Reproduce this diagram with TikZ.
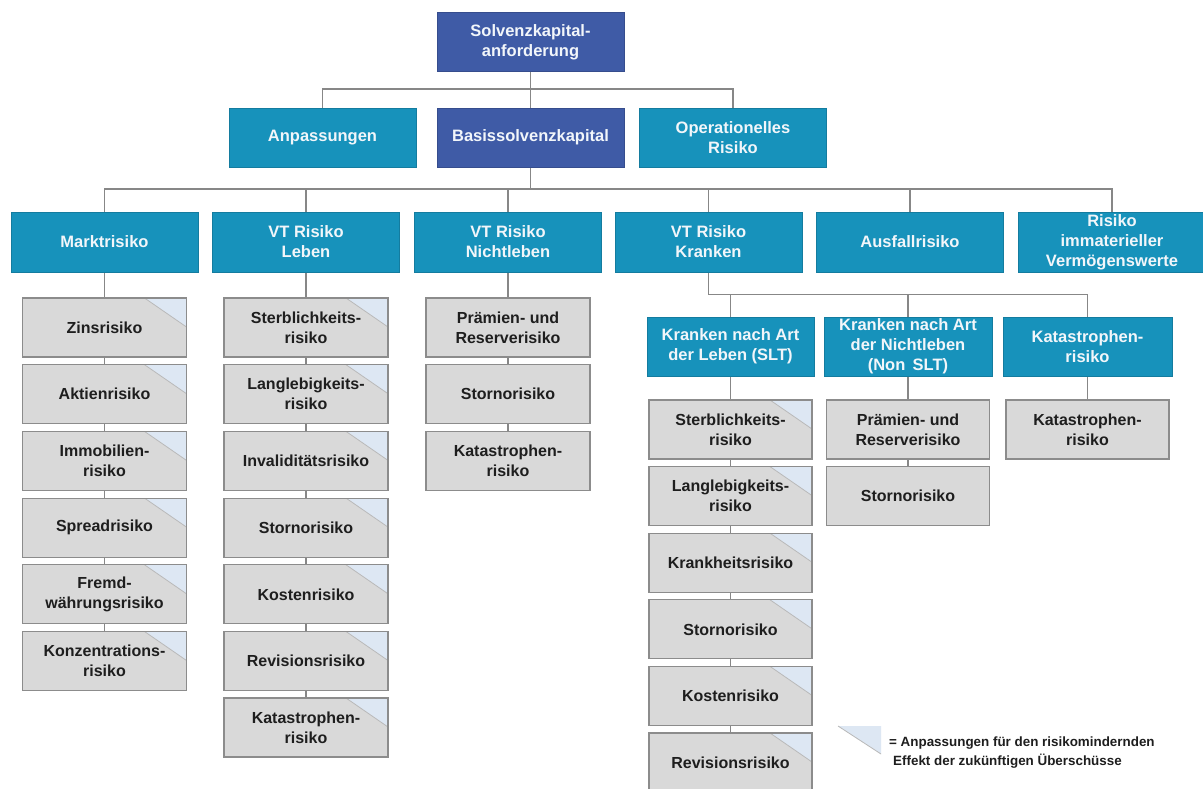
\documentclass[tikz,border=0pt]{standalone}
\usepackage{fontspec}
\setmainfont{Liberation Sans}
\usetikzlibrary{calc,backgrounds}
\definecolor{darkblue}{RGB}{63,91,166}
\definecolor{tealblue}{RGB}{23,146,187}
\definecolor{boxgray}{RGB}{217,217,217}
\definecolor{bordergray}{RGB}{140,140,140}
\definecolor{trifill}{RGB}{221,231,243}
\definecolor{linegray}{RGB}{135,135,135}
\definecolor{txtdark}{RGB}{30,30,30}
\definecolor{txtlight}{RGB}{242,246,250}
\begin{document}
\begin{tikzpicture}[x=1pt,y=-1pt,
  base/.style={rectangle, inner sep=0pt, align=center, font=\fontsize{16.5}{20}\selectfont\bfseries},
  bluebox/.style={base, fill=darkblue, draw=darkblue!85!black, line width=0.6pt, text=txtlight, minimum width=187pt, minimum height=59pt},
  tealbox/.style={base, fill=tealblue, draw=tealblue!85!black, line width=0.6pt, text=txtlight, minimum width=187pt, minimum height=60pt},
  subhead/.style={tealbox, minimum width=167pt, minimum height=59pt},
  graybox/.style={base, fill=boxgray, draw=bordergray, line width=1.2pt, text=txtdark, minimum width=164pt, minimum height=59pt, font=\fontsize{16}{20}\selectfont\bfseries},
  cornerbox/.style={graybox, path picture={
      \fill[trifill] ([xshift=-42pt]path picture bounding box.north east) -- (path picture bounding box.north east) -- ([yshift=-29pt]path picture bounding box.north east) -- cycle;
      \draw[gray!55, line width=0.8pt] ([xshift=-42pt]path picture bounding box.north east) -- ([yshift=-29pt]path picture bounding box.north east);}},
  conn/.style={draw=linegray, line width=1.3pt},
  legendtext/.style={anchor=west, inner sep=0pt, text=txtdark, font=\fontsize{13.4}{16}\selectfont\bfseries}
]
\useasboundingbox (0,0) rectangle (1203,789);

% top levels
\node[bluebox] (solvenz) at (530.5,42) {Solvenzkapital-\\anforderung};
\node[tealbox, minimum height=59pt] (anp) at (322.5,137.5) {Anpassungen};
\node[bluebox] (basis) at (530.5,137.5) {Basissolvenzkapital};
\node[tealbox, minimum height=59pt] (oper) at (733,137.5) {Operationelles\\Risiko};

% row 3
\node[tealbox] (markt) at (104.5,242) {Marktrisiko};
\node[tealbox] (leben) at (306,242) {VT Risiko\\Leben};
\node[tealbox] (nicht) at (508,242) {VT Risiko\\Nichtleben};
\node[tealbox] (kranken) at (708.5,242) {VT Risiko\\Kranken};
\node[tealbox] (ausfall) at (910,242) {Ausfallrisiko};
\node[tealbox] (immat) at (1112,242) {Risiko\\immaterieller\\Verm\"ogenswerte};

% Marktrisiko column
\node[cornerbox] (m1) at (104.5,327.5) {Zinsrisiko};
\node[cornerbox] (m2) at (104.5,394.2) {Aktienrisiko};
\node[cornerbox] (m3) at (104.5,460.9) {Immobilien-\\risiko};
\node[cornerbox] (m4) at (104.5,527.6) {Spreadrisiko};
\node[cornerbox] (m5) at (104.5,594.3) {Fremd-\\w\"ahrungsrisiko};
\node[cornerbox] (m6) at (104.5,661) {Konzentrations-\\risiko};

% Leben column
\node[cornerbox] (l1) at (306,327.5) {Sterblichkeits-\\risiko};
\node[cornerbox] (l2) at (306,394.2) {Langlebigkeits-\\risiko};
\node[cornerbox] (l3) at (306,460.9) {Invalidit\"atsrisiko};
\node[cornerbox] (l4) at (306,527.6) {Stornorisiko};
\node[cornerbox] (l5) at (306,594.3) {Kostenrisiko};
\node[cornerbox] (l6) at (306,661) {Revisionsrisiko};
\node[cornerbox] (l7) at (306,727.5) {Katastrophen-\\risiko};

% Nichtleben column
\node[graybox] (n1) at (508,327.5) {Pr\"amien- und\\Reserverisiko};
\node[graybox] (n2) at (508,394.2) {Stornorisiko};
\node[graybox] (n3) at (508,460.9) {Katastrophen-\\risiko};

% Kranken sub heads
\node[subhead] (slt) at (730.5,346.5) {Kranken nach Art\\der Leben (SLT)};
\node[subhead, minimum width=168pt] (nonslt) at (908,346.5) {Kranken nach Art\\der Nichtleben\\(Non\,\ SLT)};
\node[subhead, minimum width=169pt] (katg) at (1087.5,346.5) {Katastrophen-\\risiko};

% SLT column
\node[cornerbox, minimum width=163pt] (s1) at (730.5,429.5) {Sterblichkeits-\\risiko};
\node[cornerbox, minimum width=163pt] (s2) at (730.5,496.1) {Langlebigkeits-\\risiko};
\node[cornerbox, minimum width=163pt] (s3) at (730.5,562.7) {Krankheitsrisiko};
\node[cornerbox, minimum width=163pt] (s4) at (730.5,629.3) {Stornorisiko};
\node[cornerbox, minimum width=163pt] (s5) at (730.5,695.9) {Kostenrisiko};
\node[cornerbox, minimum width=163pt] (s6) at (730.5,762.5) {Revisionsrisiko};

% Non SLT column
\node[graybox, minimum width=163pt] (ns1) at (908,429.5) {Pr\"amien- und\\Reserverisiko};
\node[graybox, minimum width=163pt] (ns2) at (908,496.1) {Stornorisiko};

% Katastrophen column
\node[graybox, minimum width=163pt] (k1) at (1087.5,429.5) {Katastrophen-\\risiko};

% connectors
\begin{scope}[on background layer]
\fill[white] (0,0) rectangle (1203,789);
\coordinate (bus1) at (530.5,89);
\coordinate (bus2) at (530.5,189);
\coordinate (bus3) at (908,294.5);
\draw[conn] (solvenz.south) -- (basis.north);
\draw[conn] (anp.north) |- (bus1) -| (oper.north);
\draw[conn] (basis.south) -- (basis.south |- bus2);
\draw[conn] (markt.north) |- (bus2) -| (immat.north);
\foreach \n in {leben,nicht,kranken,ausfall}
  \draw[conn] (\n.north) -- (\n.north |- bus2);
\draw[conn] (kranken.south) |- (bus3) -| (katg.north);
\draw[conn] (slt.north) -- (slt.north |- bus3);
\draw[conn] (nonslt.north) -- (nonslt.north |- bus3);
\draw[conn] (markt.south) -- (m1.north);
\draw[conn] (leben.south) -- (l1.north);
\draw[conn] (nicht.south) -- (n1.north);
\draw[conn] (slt.south) -- (s1.north);
\draw[conn] (nonslt.south) -- (ns1.north);
\draw[conn] (katg.south) -- (k1.north);
\foreach \a/\b in {m1/m2,m2/m3,m3/m4,m4/m5,m5/m6,
                   l1/l2,l2/l3,l3/l4,l4/l5,l5/l6,l6/l7,
                   n1/n2,n2/n3,
                   s1/s2,s2/s3,s3/s4,s4/s5,s5/s6,
                   ns1/ns2}
  \draw[conn] (\a.south) -- (\b.north);
\end{scope}

% legend
\coordinate (lega) at (838,726);
\coordinate (legb) at (881,726);
\coordinate (legc) at (881,754);
\fill[trifill] (lega) -- (legb) -- (legc) -- cycle;
\draw[gray!55, line width=0.8pt] (lega) -- (legc);
\node[legendtext] (leg1) at (889,743) {= Anpassungen f\"ur den risikomindernden};
\node[legendtext] (leg2) at (893,761) {Effekt der zuk\"unftigen \"Uberschüsse};
\end{tikzpicture}
\end{document}
